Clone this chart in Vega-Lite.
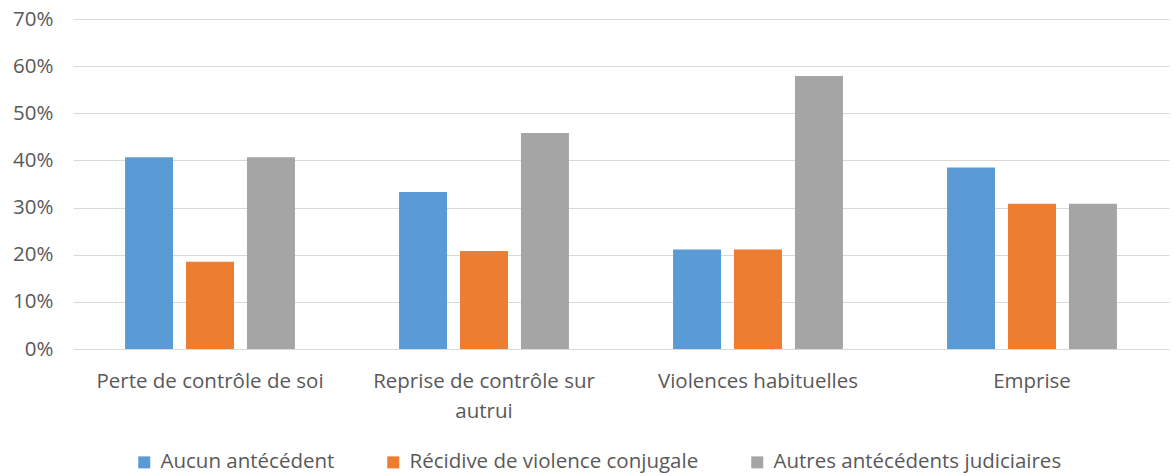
{
  "$schema": "https://vega.github.io/schema/vega-lite/v6.json",
  "width": 1096,
  "height": 330,
  "autosize": {"type": "none"},
  "padding": {"left": 73, "top": 19, "right": 5, "bottom": 127},
  "background": "white",
  "config": {
    "view": {"stroke": null},
    "font": "Open Sans",
    "axis": {"labelFont": "Open Sans", "labelColor": "#595959"},
    "legend": {"labelFont": "Open Sans", "labelColor": "#595959"}
  },
  "data": {
    "values": [
      {"cat": "Perte de contrôle de soi", "serie": "Aucun antécédent", "v": 0.407},
      {"cat": "Perte de contrôle de soi", "serie": "Récidive de violence conjugale", "v": 0.185},
      {"cat": "Perte de contrôle de soi", "serie": "Autres antécédents judiciaires", "v": 0.407},
      {"cat": "Reprise de contrôle sur autrui", "serie": "Aucun antécédent", "v": 0.333},
      {"cat": "Reprise de contrôle sur autrui", "serie": "Récidive de violence conjugale", "v": 0.208},
      {"cat": "Reprise de contrôle sur autrui", "serie": "Autres antécédents judiciaires", "v": 0.458},
      {"cat": "Violences habituelles", "serie": "Aucun antécédent", "v": 0.211},
      {"cat": "Violences habituelles", "serie": "Récidive de violence conjugale", "v": 0.211},
      {"cat": "Violences habituelles", "serie": "Autres antécédents judiciaires", "v": 0.579},
      {"cat": "Emprise", "serie": "Aucun antécédent", "v": 0.385},
      {"cat": "Emprise", "serie": "Récidive de violence conjugale", "v": 0.308},
      {"cat": "Emprise", "serie": "Autres antécédents judiciaires", "v": 0.308}
    ]
  },
  "mark": {"type": "bar"},
  "encoding": {
    "x": {
      "field": "cat",
      "type": "nominal",
      "sort": ["Perte de contrôle de soi", "Reprise de contrôle sur autrui", "Violences habituelles", "Emprise"],
      "scale": {"paddingInner": 0.38, "paddingOuter": 0.19},
      "axis": {
        "title": null,
        "labelAngle": 0,
        "labelFontSize": 20.5,
        "labelPadding": 22,
        "labelLineHeight": 30,
        "labelBaseline": "top",
        "ticks": false,
        "domain": true,
        "domainColor": "#d9d9d9",
        "labelLimit": 400,
        "labelExpr": "datum.label == 'Reprise de contrôle sur autrui' ? ['Reprise de contrôle sur', 'autrui'] : datum.label"
      }
    },
    "xOffset": {
      "field": "serie",
      "type": "nominal",
      "sort": ["Aucun antécédent", "Récidive de violence conjugale", "Autres antécédents judiciaires"],
      "scale": {"paddingInner": 0.213, "paddingOuter": 0}
    },
    "y": {
      "field": "v",
      "type": "quantitative",
      "scale": {"domain": [0, 0.7], "nice": false},
      "axis": {
        "title": null,
        "format": ".0%",
        "values": [0, 0.1, 0.2, 0.3, 0.4, 0.5, 0.6, 0.7],
        "labelFontSize": 20.5,
        "labelPadding": 20,
        "ticks": false,
        "domain": false,
        "gridColor": "#d9d9d9",
        "gridWidth": 1
      }
    },
    "color": {
      "field": "serie",
      "type": "nominal",
      "sort": ["Aucun antécédent", "Récidive de violence conjugale", "Autres antécédents judiciaires"],
      "scale": {
        "domain": ["Aucun antécédent", "Récidive de violence conjugale", "Autres antécédents judiciaires"],
        "range": ["#5B9BD5", "#ED7D31", "#A5A5A5"]
      },
      "legend": {
        "title": null,
        "orient": "none",
        "direction": "horizontal",
        "legendX": 61,
        "legendY": 433,
        "symbolType": "square",
        "symbolSize": 144,
        "symbolStrokeWidth": 0,
        "labelFontSize": 20.5,
        "labelOffset": 6,
        "columnPadding": 48,
        "labelLimit": 500
      }
    }
  }
}
